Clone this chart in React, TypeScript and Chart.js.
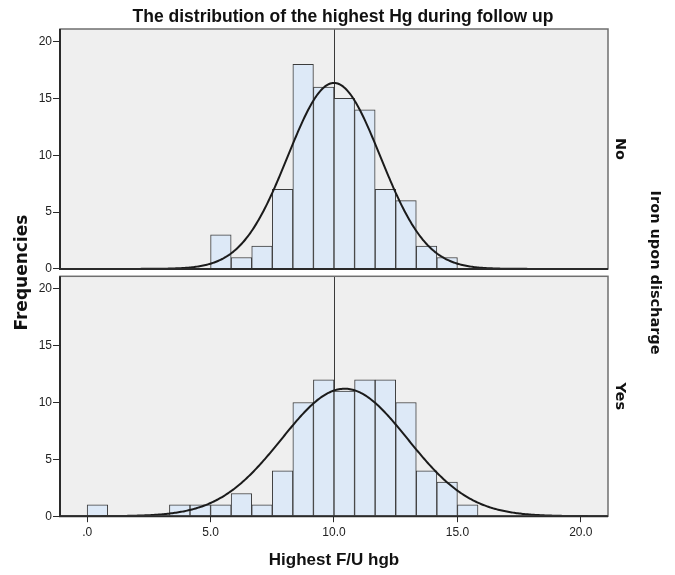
import React, { useEffect, useRef } from 'react';
import { Chart, registerables } from 'chart.js';

Chart.register(...registerables);

// ---------- texts ----------
const TITLE = 'The distribution of the highest Hg during follow up';
const X_TITLE = 'Highest F/U hgb';
const Y_TITLE = 'Frequencies';
const PANEL_TITLE = 'Iron upon discharge';
const PANEL_LABELS = ['No', 'Yes'];

// ---------- histogram data ----------
// bin index k covers [k * BIN_WIDTH, (k + 1) * BIN_WIDTH)
const BIN_WIDTH = 5 / 6;
const NO_BINS = [6, 7, 8, 9, 10, 11, 12, 13, 14, 15, 16, 17];
const NO_COUNTS = [3, 1, 2, 7, 18, 16, 15, 14, 7, 6, 2, 1];
const YES_BINS = [0, 4, 5, 6, 7, 8, 9, 10, 11, 12, 13, 14, 15, 16, 17, 18];
const YES_COUNTS = [1, 1, 1, 1, 2, 1, 4, 10, 12, 11, 12, 12, 10, 4, 3, 1];

// fitted normal curve parameters
const NO_MEAN = 10.0;
const NO_SD = 1.87;
const YES_MEAN = 10.43;
const YES_SD = 2.55;

// ---------- axes ----------
const X_MIN = -1.1;
const X_MAX = 21.1;
const X_TICKS = [0, 5, 10, 15, 20];
const Y_TICKS = [0, 5, 10, 15, 20];
const Y_MAX = 21.1;
const Y_NO_MIN = -0.65; // leaves the small gap between the two panels
const REF_LINE_X = 10;

// ---------- styles ----------
const PANEL_BG = '#efefef';
const BAR_FILL = '#dde9f7';
const BAR_BORDER = '#3c3c3c';
const CURVE_COLOR = '#1b1b1b';
const FRAME_COLOR = '#6f6f6f';
const AXIS_DARK = '#2a2a2a';
const TEXT_COLOR = '#111111';
const SANS = "'Liberation Sans', Arial, sans-serif";
const WIDE = "'DejaVu Sans', Verdana, sans-serif";

function normalCurve(mean: number, sd: number, n: number) {
  const pts: { x: number; y: number }[] = [];
  const scale = n * BIN_WIDTH;
  for (let i = 0; i <= 444; i++) {
    const x = X_MIN + (i * (X_MAX - X_MIN)) / 444;
    const z = (x - mean) / sd;
    pts.push({ x, y: (scale / (sd * Math.sqrt(2 * Math.PI))) * Math.exp(-0.5 * z * z) });
  }
  return pts;
}

const sum = (a: number[]) => a.reduce((s, v) => s + v, 0);

const panelPlugin = {
  id: 'panels',
  beforeDatasetsDraw(chart: any) {
    const { ctx, scales } = chart;
    const x = scales.x;
    ctx.save();
    for (const id of ['yNo', 'yYes']) {
      const y = scales[id];
      const top = y.getPixelForValue(y.max);
      const bottom = y.getPixelForValue(0);
      ctx.fillStyle = PANEL_BG;
      ctx.fillRect(x.left, top, x.right - x.left, bottom - top);
      const rx = Math.round(x.getPixelForValue(REF_LINE_X)) + 0.5;
      ctx.strokeStyle = '#3a3a3a';
      ctx.lineWidth = 1;
      ctx.beginPath();
      ctx.moveTo(rx, top);
      ctx.lineTo(rx, bottom);
      ctx.stroke();
    }
    ctx.restore();
  },
  afterDatasetsDraw(chart: any) {
    const { ctx, scales } = chart;
    const x = scales.x;
    ctx.save();
    for (const id of ['yNo', 'yYes']) {
      const y = scales[id];
      const top = y.getPixelForValue(y.max);
      const bottom = y.getPixelForValue(0);
      ctx.strokeStyle = FRAME_COLOR;
      ctx.lineWidth = 1.5;
      ctx.strokeRect(x.left, top, x.right - x.left, bottom - top);
      ctx.strokeStyle = AXIS_DARK;
      ctx.lineWidth = 2;
      ctx.beginPath();
      ctx.moveTo(x.left, top);
      ctx.lineTo(x.left, bottom);
      ctx.lineTo(x.right, bottom);
      ctx.stroke();
    }
    ctx.restore();
  },
  afterDraw(chart: any) {
    const { ctx, scales, chartArea } = chart;
    const yNo = scales.yNo;
    const yYes = scales.yYes;
    ctx.save();
    ctx.fillStyle = TEXT_COLOR;
    ctx.textAlign = 'center';
    ctx.textBaseline = 'middle';
    // left title
    ctx.save();
    ctx.translate(chartArea.left - 37, (chartArea.top + chartArea.bottom) / 2);
    ctx.rotate(-Math.PI / 2);
    ctx.font = `bold 17px ${WIDE}`;
    ctx.fillText(Y_TITLE, 0, 0);
    ctx.restore();
    // panel labels
    const panels = [yNo, yYes];
    panels.forEach((y: any, i: number) => {
      const top = y.getPixelForValue(y.max);
      const bottom = y.getPixelForValue(0);
      ctx.save();
      ctx.translate(chartArea.right + 12, (top + bottom) / 2);
      ctx.rotate(Math.PI / 2);
      ctx.font = `bold 14.5px ${WIDE}`;
      ctx.fillText(PANEL_LABELS[i], 0, 0);
      ctx.restore();
    });
    ctx.save();
    ctx.translate(chartArea.right + 47, (chartArea.top + chartArea.bottom) / 2);
    ctx.rotate(Math.PI / 2);
    ctx.font = `bold 14.5px ${WIDE}`;
    ctx.fillText(PANEL_TITLE, 0, 0);
    ctx.restore();
    ctx.restore();
  },
};

function yAxis(min: number, weight: number) {
  return {
    type: 'linear' as const,
    position: 'left' as const,
    stack: 'panels',
    stackWeight: Y_MAX - min,
    weight,
    min,
    max: Y_MAX,
    afterBuildTicks: (s: any) => {
      s.ticks = Y_TICKS.map((v) => ({ value: v }));
    },
    afterFit: (s: any) => {
      s.width = 49;
    },
    ticks: {
      font: { family: SANS, size: 12 },
      color: '#222',
      padding: 1,
      autoSkip: false,
    },
    grid: {
      drawOnChartArea: false,
      drawTicks: true,
      tickLength: 7,
      color: AXIS_DARK,
      lineWidth: 1,
    },
    border: { display: false },
  };
}

export default function App() {
  const ref = useRef<HTMLCanvasElement | null>(null);

  useEffect(() => {
    if (!ref.current) return;
    const barStyle = {
      backgroundColor: BAR_FILL,
      borderColor: BAR_BORDER,
      borderWidth: 1,
      barPercentage: 1,
      categoryPercentage: 1,
      grouped: false,
      order: 2,
    };
    const lineStyle = {
      borderColor: CURVE_COLOR,
      borderWidth: 2,
      pointRadius: 0,
      fill: false,
      tension: 0,
      order: 1,
    };
    const chart = new Chart(ref.current, {
      type: 'bar',
      data: {
        datasets: [
          {
            type: 'bar',
            label: 'No',
            data: NO_BINS.map((k, i) => ({ x: (k + 0.5) * BIN_WIDTH, y: NO_COUNTS[i] })),
            xAxisID: 'x',
            yAxisID: 'yNo',
            ...barStyle,
          } as any,
          {
            type: 'bar',
            label: 'Yes',
            data: YES_BINS.map((k, i) => ({ x: (k + 0.5) * BIN_WIDTH, y: YES_COUNTS[i] })),
            xAxisID: 'x',
            yAxisID: 'yYes',
            ...barStyle,
          } as any,
          {
            type: 'line',
            label: 'No normal',
            data: normalCurve(NO_MEAN, NO_SD, sum(NO_COUNTS)),
            xAxisID: 'x',
            yAxisID: 'yNo',
            ...lineStyle,
          } as any,
          {
            type: 'line',
            label: 'Yes normal',
            data: normalCurve(YES_MEAN, YES_SD, sum(YES_COUNTS)),
            xAxisID: 'x',
            yAxisID: 'yYes',
            ...lineStyle,
          } as any,
        ],
      },
      options: {
        responsive: false,
        animation: false,
        layout: { padding: { left: 11, right: 0, top: 0, bottom: 4 } },
        plugins: {
          legend: { display: false },
          tooltip: { enabled: false },
          title: {
            display: true,
            text: TITLE,
            color: TEXT_COLOR,
            font: { family: SANS, size: 17.5, weight: 'bold' },
            padding: { top: 7, bottom: 1 },
          },
        },
        scales: {
          x: {
            type: 'linear',
            offset: false,
            min: X_MIN,
            max: X_MAX,
            afterBuildTicks: (s: any) => {
              s.ticks = X_TICKS.map((v) => ({ value: v }));
            },
            ticks: {
              callback: (v: any) => (Number(v) === 0 ? '.0' : Number(v).toFixed(1)),
              font: { family: SANS, size: 12 },
              color: '#222',
              padding: 3,
              maxRotation: 0,
              autoSkip: false,
            },
            grid: {
              offset: false,
              drawOnChartArea: false,
              drawTicks: true,
              tickLength: 6,
              color: AXIS_DARK,
              lineWidth: 1,
            },
            border: { display: false },
            title: {
              display: true,
              text: X_TITLE,
              color: TEXT_COLOR,
              font: { family: SANS, size: 17, weight: 'bold' },
              padding: { top: 8, bottom: 0 },
            },
          },
          yNo: yAxis(Y_NO_MIN, 2),
          yYes: yAxis(0, 1),
          // empty right-hand column reserving room for the panel labels
          side: {
            type: 'linear',
            position: 'right',
            display: true,
            afterFit: (s: any) => {
              s.width = 67;
            },
            ticks: { display: false },
            grid: { display: false },
            border: { display: false },
          },
        } as any,
      },
      plugins: [panelPlugin],
    });
    return () => chart.destroy();
  }, []);

  return (
    <div style={{ position: 'fixed', left: 0, top: 0, width: 675, height: 575, background: '#fff' }}>
      <canvas ref={ref} width={675} height={575} style={{ display: 'block' }} />
    </div>
  );
}
